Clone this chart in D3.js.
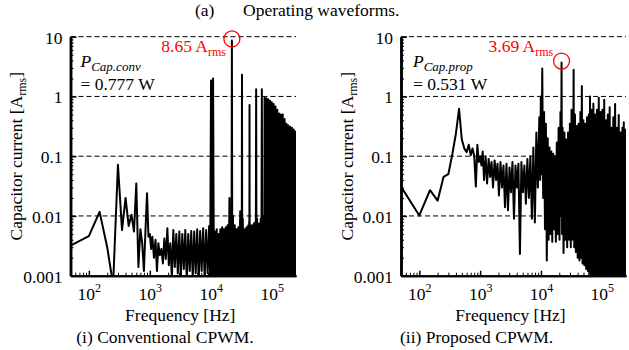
<!DOCTYPE html>
<html>
<head>
<meta charset="utf-8">
<script src="https://cdn.jsdelivr.net/npm/d3@7"></script>
<style>
  body { margin: 0; background: #fff; }
  svg text { font-family: "Liberation Serif", "Times New Roman", serif; }
</style>
</head>
<body>
<svg id="figure" width="629" height="350"></svg>
<script>
// Axis setup
const freqDomain = [50, 250000];
const ampDomain = [0.001, 10];
const yTicks = [0.001, 0.01, 0.1, 1, 10];
const yTickLabels = ['0.001', '0.01', '0.1', '1', '10'];
const xTicks = [1e2, 1e3, 1e4, 1e5];
const xTickExponents = ['2', '3', '4', '5'];

// Capacitor current spectrum, conventional CPWM [frequency Hz, current Arms]
const convSpectrum = [
    [50, 0.0032], [100, 0.0046], [150, 0.0117], [200, 0.003], [250, 0.0007], [300, 0.072], [350, 0.0058],
    [400, 0.02], [450, 0.0068], [500, 0.0105], [550, 0.0055], [600, 0.035], [650, 0.0014], [700, 0.006],
    [750, 0.0035], [800, 0.0012], [850, 0.006], [900, 0.024], [950, 0.0045], [1000, 0.005],
    [1050, 0.0028], [1100, 0.0045], [1170, 0.002], [1240, 0.004], [1310, 0.0012], [1380, 0.0035], [1460, 0.0022],
    [1550, 0.0028], [1640, 0.0016], [1730, 0.0042], [1830, 0.0019], [1940, 0.0062], [2050, 0.0015], [2170, 0.0035],
    [2300, 0.0009], [2430, 0.0058], [2570, 0.0014], [2720, 0.005], [2880, 0.0011], [3050, 0.0055], [3220, 0.0009],
    [3410, 0.005], [3610, 0.0013], [3820, 0.0058], [4040, 0.0008], [4270, 0.005], [4520, 0.0012], [4780, 0.0056],
    [5060, 0.0009], [5350, 0.0055], [5660, 0.0011], [5990, 0.006], [6340, 0.0008], [6700, 0.0056], [7090, 0.0012],
    [7500, 0.0062], [7940, 0.0009], [8400, 0.0058], [8880, 0.0011], [9400, 0.0068], [9750, 0.0009],
    [10100, 1.85], [10500, 0.0009], [10900, 2.0],
    [11280, 0.0006], [11680, 0.0055], [12090, 0.0006], [12510, 0.006], [12950, 0.0006], [13400, 0.005], [13870, 0.0006],
    [14350, 0.006], [14860, 0.0006], [15380, 0.0065], [15910, 0.0006], [16470, 0.006], [17050, 0.0006], [17640, 0.0065],
    [18260, 0.0006], [18900, 0.007], [19560, 0.0006], [20250, 0.02], [20950, 0.0006], [21450, 0.009], [21850, 0.0006],
    [22200, 8.65], [22550, 0.0006], [23100, 0.01], [23900, 0.0006], [24740, 0.007], [25610, 0.0006], [26500, 0.006],
    [27430, 0.0006], [28390, 0.0065], [29380, 0.0006], [30410, 0.012], [31200, 0.0006], [31900, 0.01], [32200, 0.0006],
    [32500, 2.3], [32800, 0.0006], [33500, 0.009], [34670, 0.0006], [35880, 0.006], [37140, 0.0006], [38440, 0.0065],
    [39790, 0.0006], [41180, 0.007], [42200, 0.0006], [42700, 0.008], [42950, 0.0006], [43200, 0.72], [43450, 0.0006],
    [44300, 0.007], [45850, 0.0006], [47450, 0.007], [49110, 0.0006], [50830, 0.0075], [52610, 0.0006], [53900, 0.008],
    [54700, 0.0006], [55500, 1.32], [56300, 0.0006], [57500, 0.009], [59500, 0.0006], [61600, 0.0075], [63750, 0.0006],
    [65980, 0.009], [67500, 0.0006], [68800, 1.32], [70100, 0.0006], [71700, 0.008], [73400, 0.0006], [75000, 0.01],
    [75600, 0.0006], [76200, 0.95], [78870, 0.0006], [81630, 0.93], [84490, 0.0006], [87440, 0.9], [90500, 0.0006],
    [93670, 0.85], [96950, 0.0006], [100340, 0.8], [103850, 0.0006], [107490, 0.75], [111250, 0.0006], [115140, 0.68],
    [119170, 0.0006], [123340, 0.6], [127660, 0.0006], [132130, 0.52], [136750, 0.0006], [141540, 0.5], [146490, 0.0006],
    [151620, 0.5], [156930, 0.0006], [162420, 0.42], [168100, 0.0006], [173990, 0.35], [180080, 0.0006], [186380, 0.33],
    [192900, 0.0006], [199650, 0.31], [206640, 0.0006], [213870, 0.3], [221360, 0.0006], [229110, 0.28], [237130, 0.0006],
    [245430, 0.26], [250000, 0.0006],
];

// Capacitor current spectrum, proposed CPWM [frequency Hz, current Arms]
const propSpectrum = [
    [50, 0.031], [100, 0.0102], [150, 0.027], [200, 0.018], [250, 0.045], [300, 0.05], [350, 0.11], [400, 0.24],
    [450, 0.62], [500, 0.19], [550, 0.134], [600, 0.117], [650, 0.155], [700, 0.104], [750, 0.135], [800, 0.1],
    [850, 0.031], [900, 0.155], [950, 0.08], [1000, 0.1], [1050, 0.07],
    [1100, 0.12], [1160, 0.04], [1230, 0.1], [1300, 0.035], [1380, 0.09], [1460, 0.045], [1540, 0.08], [1630, 0.03],
    [1730, 0.085], [1830, 0.04], [1930, 0.075], [2040, 0.022], [2160, 0.08], [2290, 0.03], [2420, 0.07], [2560, 0.014],
    [2710, 0.075], [2870, 0.0125], [3040, 0.065], [3210, 0.025], [3400, 0.08], [3600, 0.009], [3810, 0.07], [4030, 0.03],
    [4260, 0.075], [4510, 0.0023], [4770, 0.08], [5050, 0.025], [5340, 0.07], [5650, 0.016], [5980, 0.09], [6330, 0.02],
    [6700, 0.1], [7090, 0.009], [7500, 0.14], [7940, 0.0078], [8400, 0.25], [8890, 0.03], [9400, 0.45], [9700, 0.04],
    [9950, 1.0], [10200, 0.05], [10500, 2.95], [10870, 0.02], [11250, 0.55], [11640, 0.006], [12050, 0.35], [12470, 0.0018],
    [12910, 0.2], [13360, 0.004], [13830, 0.14], [14310, 0.005], [14810, 0.12], [15330, 0.0037], [15870, 0.11], [16420, 0.006],
    [17000, 0.1], [17590, 0.0037], [18210, 0.17], [18850, 0.005], [19510, 0.3], [20190, 0.004], [20900, 0.55], [21350, 0.01],
    [21800, 3.69], [22250, 0.005], [22700, 0.3], [23500, 0.0024], [24320, 0.25], [25170, 0.004], [26050, 0.19], [26960, 0.003],
    [27900, 0.25], [28880, 0.004], [29890, 0.35], [30940, 0.003], [31800, 0.6], [32600, 0.004], [33600, 0.005], [34400, 2.8],
    [35200, 0.003], [36200, 0.5], [37470, 0.0025], [38780, 0.32], [40140, 0.002], [41540, 0.35], [43000, 0.0018], [44500, 0.55],
    [45800, 0.002], [47000, 1.5], [48200, 0.0016], [49900, 0.4], [51600, 0.0015], [53400, 0.35], [55300, 0.0013], [57200, 0.45],
    [59200, 0.0012], [61300, 0.5], [62700, 0.0011], [64000, 1.0], [65500, 0.0009], [67800, 0.6], [70200, 0.0006], [72700, 0.76],
    [75200, 0.0006], [77800, 0.5], [80500, 0.0006], [83300, 0.6], [86200, 0.0006], [89200, 0.95], [92300, 0.0006], [95500, 0.55],
    [98800, 0.0006], [102300, 0.6], [105900, 0.0006], [109600, 0.88], [113400, 0.0006], [117400, 0.4], [121500, 0.0006],
    [125700, 0.5], [130100, 0.0006], [134700, 0.66], [139400, 0.0006], [144300, 0.3], [149300, 0.0006], [154500, 0.45],
    [159900, 0.0006], [165500, 0.75], [171300, 0.0006], [177300, 0.3], [183500, 0.0006], [189900, 0.49], [196600, 0.0006],
    [203500, 0.25], [210600, 0.0006], [218000, 0.3], [225600, 0.0006], [229800, 0.37], [233500, 0.0006], [241700, 0.28],
    [250000, 0.0006],
];

const FONT = 17.5;
const SUB = 12;
const SERIF = '"Liberation Serif", "Times New Roman", serif';

class SpectrumChart {
    constructor(svgContainer, data, opts) {
        this.svg = svgContainer;
        this.data = data;
        this.opts = opts;
        this.init();
    }

    init() {
        const vis = this;
        const o = vis.opts;

        vis.width = o.width;
        vis.height = o.height;

        vis.chart = vis.svg.append('g')
          .attr('transform', `translate(${o.left},${o.top})`);

        vis.xScale = d3.scaleLog().domain(freqDomain).range([0, vis.width]);
        vis.yScale = d3.scaleLog().domain(ampDomain).range([vis.height, 0]);

        // Dashed grid at every decade above the bottom one
        vis.chart.append('g')
          .selectAll('line')
          .data(yTicks.filter((d) => d > ampDomain[0]))
          .join('line')
          .attr('x1', 0)
          .attr('x2', vis.width)
          .attr('y1', (d) => vis.yScale(d))
          .attr('y2', (d) => vis.yScale(d))
          .attr('stroke', '#000')
          .attr('stroke-width', 1)
          .attr('stroke-dasharray', '5,3');

        // Clip so harmonics below 0.001 stop at the axis
        vis.chart.append('clipPath')
          .attr('id', `clip-${o.id}`)
          .append('rect')
          .attr('width', vis.width)
          .attr('height', vis.height);

        const line = d3.line()
          .x((d) => vis.xScale(d[0]))
          .y((d) => vis.yScale(d[1]));

        vis.chart.append('path')
          .datum(vis.data)
          .attr('clip-path', `url(#clip-${o.id})`)
          .attr('fill', 'none')
          .attr('stroke', '#000')
          .attr('stroke-width', 2)
          .attr('stroke-linejoin', 'round')
          .attr('d', line);

        vis.drawAxes();
        vis.drawLabels();
    }

    drawAxes() {
        const vis = this;
        const isMinor = (d) => Math.abs(Math.log10(d) - Math.round(Math.log10(d))) > 1e-6;

        const yMinor = vis.yScale.ticks().filter(isMinor);
        const xMinor = vis.xScale.ticks().filter(isMinor);

        // y axis: minor ticks inside, then decades with labels
        vis.chart.append('g')
          .call(d3.axisLeft(vis.yScale).tickValues(yMinor).tickSize(-3).tickSizeOuter(0).tickFormat(''))
          .call((g) => g.select('.domain').attr('stroke-width', 2.5));

        vis.chart.append('g')
          .call(d3.axisLeft(vis.yScale).tickValues(yTicks).tickSize(-6).tickSizeOuter(0).tickPadding(8)
            .tickFormat((d, i) => yTickLabels[i]))
          .call((g) => g.select('.domain').attr('stroke-width', 2.5))
          .call((g) => g.selectAll('.tick line').attr('stroke-width', 1.5))
          .call((g) => g.selectAll('.tick text')
            .style('font-family', SERIF)
            .style('font-size', `${FONT}px`)
            .attr('fill', '#000')
            .attr('dy', '0.36em'));

        // x axis
        const xAxisG = vis.chart.append('g')
          .attr('transform', `translate(0,${vis.height})`);

        xAxisG.append('g')
          .call(d3.axisBottom(vis.xScale).tickValues(xMinor).tickSize(-3).tickSizeOuter(0).tickFormat(''))
          .call((g) => g.select('.domain').attr('stroke-width', 2));

        xAxisG.append('g')
          .call(d3.axisBottom(vis.xScale).tickValues(xTicks).tickSize(-5).tickSizeOuter(0).tickFormat(''))
          .call((g) => g.select('.domain').attr('stroke-width', 2))
          .call((g) => g.selectAll('.tick line').attr('stroke-width', 1.5))
          .call((g) => g.selectAll('.tick text')
            .style('font-family', SERIF)
            .style('font-size', `${FONT}px`)
            .attr('fill', '#000')
            .attr('y', 24.5)
            .attr('dy', 0)
            .each(function (d, i) {
                const t = d3.select(this);
                t.text('10');
                t.append('tspan')
                  .style('font-size', `${SUB}px`)
                  .attr('dy', -8)
                  .text(xTickExponents[i]);
            }));
    }

    drawLabels() {
        const vis = this;
        const o = vis.opts;

        // y-axis title
        const yTitle = vis.chart.append('text')
          .attr('transform', 'rotate(-90)')
          .attr('x', -vis.height / 2)
          .attr('y', o.yTitleX)
          .attr('text-anchor', 'middle')
          .attr('font-size', FONT)
          .text('Capacitor current [A');
        yTitle.append('tspan').attr('font-size', SUB).attr('dy', 4).text('rms');
        yTitle.append('tspan').attr('dy', -4).text(']');

        // x-axis title
        vis.chart.append('text')
          .attr('x', vis.width / 2 - 3)
          .attr('y', vis.height + 45.3)
          .attr('text-anchor', 'middle')
          .attr('font-size', FONT)
          .text('Frequency [Hz]');

        // caption
        vis.chart.append('text')
          .attr('x', o.captionX - o.left)
          .attr('y', vis.height + 67.3)
          .attr('text-anchor', 'middle')
          .attr('font-size', FONT)
          .text(o.caption);

        // loss annotation
        const p = vis.chart.append('text')
          .attr('x', o.pX)
          .attr('y', 30.6)
          .attr('font-size', FONT)
          .attr('font-style', 'italic')
          .text('P');
        p.append('tspan').attr('font-size', SUB + 1).attr('dy', 3.5).text(o.pSub);

        vis.chart.append('text')
          .attr('x', o.pX)
          .attr('y', 53.3)
          .attr('font-size', FONT)
          .text(o.pValue);

        // peak annotation
        const peak = vis.data.reduce((a, b) => (b[1] > a[1] ? b : a));
        vis.chart.append('circle')
          .attr('cx', vis.xScale(peak[0]))
          .attr('cy', vis.yScale(peak[1]) - 1.5)
          .attr('r', 8)
          .attr('fill', 'none')
          .attr('stroke', '#f00')
          .attr('stroke-width', 1.3);

        const pk = vis.chart.append('text')
          .attr('x', o.peakTextX)
          .attr('y', 15)
          .attr('font-size', FONT)
          .attr('fill', '#f00')
          .text(`${peak[1].toFixed(2)} A`);
        pk.append('tspan').attr('font-size', SUB).attr('dy', 4).text('rms');
    }
}

const svg = d3.select('#figure');

// Figure heading
svg.append('text').attr('x', 195).attr('y', 15.5).attr('font-size', FONT).text('(a)');
svg.append('text').attr('x', 243).attr('y', 15.5).attr('font-size', FONT).text('Operating waveforms.');

new SpectrumChart(svg, convSpectrum, {
    id: 'conv', left: 70.5, top: 36.7, width: 225.5, height: 239,
    yTitleX: -48.5, captionX: 165, caption: '(i) Conventional CPWM.',
    pX: 10, pSub: 'Cap.conv', pValue: '= 0.777 W', peakTextX: 90.8,
});

new SpectrumChart(svg, propSpectrum, {
    id: 'prop', left: 401, top: 36.7, width: 225, height: 239,
    yTitleX: -48.5, captionX: 476.5, caption: '(ii) Proposed CPWM.',
    pX: 12, pSub: 'Cap.prop', pValue: '= 0.531 W', peakTextX: 87.5,
});
</script>
</body>
</html>
